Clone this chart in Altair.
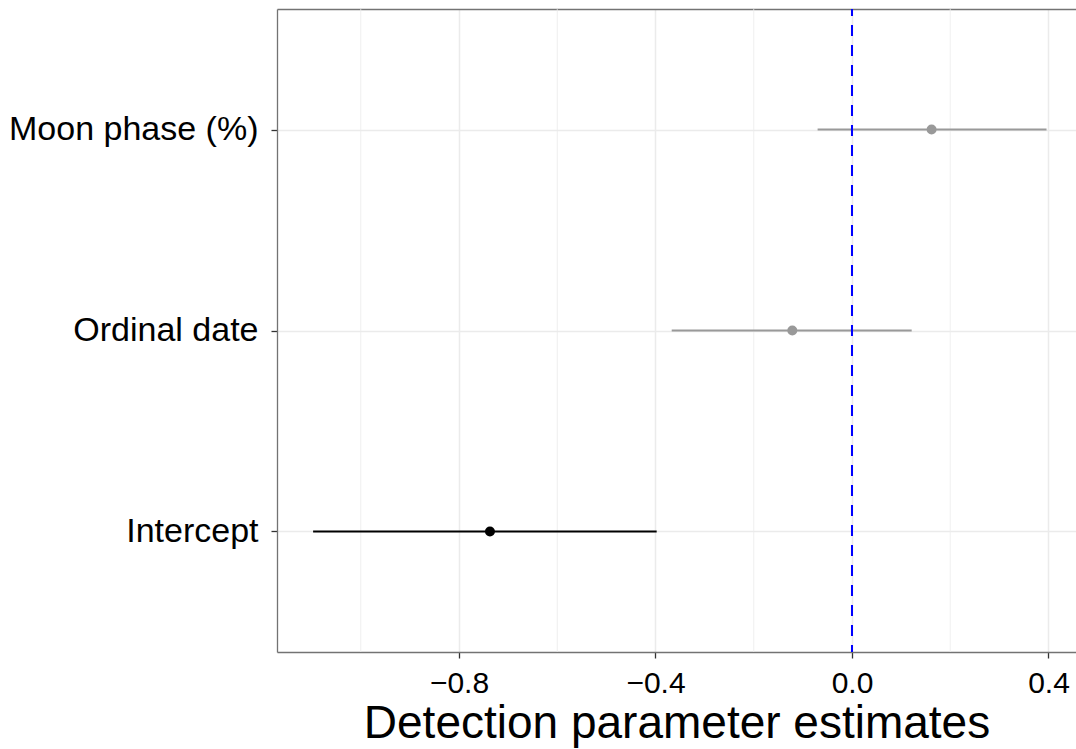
import altair as alt
import pandas as pd

terms = ["Moon phase (%)", "Ordinal date", "Intercept"]
estimate = [0.162, -0.1215, -0.737]
lower = [-0.070, -0.367, -1.097]
upper = [0.396, 0.1215, -0.3976]
signif = ["no", "no", "yes"]

major_ticks = [-0.8, -0.4, 0.0, 0.4]
minor_ticks = [-1.0, -0.6, -0.2, 0.2]

df = pd.DataFrame({"term": terms, "estimate": estimate, "lower": lower,
                   "upper": upper, "signif": signif})
minor_df = pd.DataFrame({"v": minor_ticks})

xscale = alt.Scale(domain=[-1.1705, 0.456], nice=False, zero=False)
yscale = alt.Scale(type="point", domain=terms, padding=0.6)
cscale = alt.Scale(domain=["no", "yes"], range=["#999999", "#000000"])

border = "#737373"

yaxis = alt.Axis(title=None, grid=True, gridColor="#ebebeb", gridWidth=1.5,
                 domain=True, domainColor=border, domainWidth=1.3,
                 tickColor="#333333", tickSize=6, tickWidth=1.3,
                 labelFontSize=34, labelColor="#000000", labelPadding=13,
                 labelFont="Liberation Sans", labelLimit=400)

minor = alt.Chart(minor_df).mark_rule(color="#ebebeb", strokeWidth=0.8).encode(
    x=alt.X("v:Q", scale=xscale,
            axis=alt.Axis(orient="top", title=None, labels=False, ticks=False,
                          grid=False, domain=True, domainColor=border,
                          domainWidth=1.3))
)

base = alt.Chart(df)

bars = base.mark_rule(strokeWidth=2).encode(
    x=alt.X("lower:Q", scale=xscale,
            axis=alt.Axis(orient="bottom", values=major_ticks, format=".1f",
                          title="Detection parameter estimates",
                          grid=True, gridColor="#ebebeb", gridWidth=1.5,
                          domain=True, domainColor=border, domainWidth=1.3,
                          tickColor="#333333", tickSize=6, tickWidth=1.3,
                          labelFontSize=30, labelColor="#000000", labelPadding=10,
                          labelFont="Liberation Sans",
                          titleFontSize=46, titleFont="Liberation Sans",
                          titleFontWeight="normal", titleColor="#000000",
                          titlePadding=3)),
    x2="upper:Q",
    y=alt.Y("term:N", scale=yscale, sort=terms, axis=yaxis),
    color=alt.Color("signif:N", scale=cscale, legend=None),
)

points = base.mark_point(filled=True, opacity=1, size=100).encode(
    x=alt.X("estimate:Q", scale=xscale, axis=None),
    y=alt.Y("term:N", scale=yscale, sort=terms, axis=yaxis),
    color=alt.Color("signif:N", scale=cscale, legend=None),
)

zero = alt.Chart(df).mark_rule(color="#0000ff", strokeWidth=2,
                               strokeDash=[11, 9], strokeDashOffset=4).encode(
    x=alt.datum(0, scale=xscale, axis=None)
)

chart = alt.layer(minor, bars, zero, points).resolve_axis(
    x="independent"
).properties(
    width=799, height=643,
    autosize=alt.AutoSizeParams(type="none"),
    padding={"left": 277, "top": 9, "right": 0, "bottom": 97},
    background="white",
).configure_view(stroke=None)

chart.save("out.html", embed_options={"renderer": "svg", "actions": False})
